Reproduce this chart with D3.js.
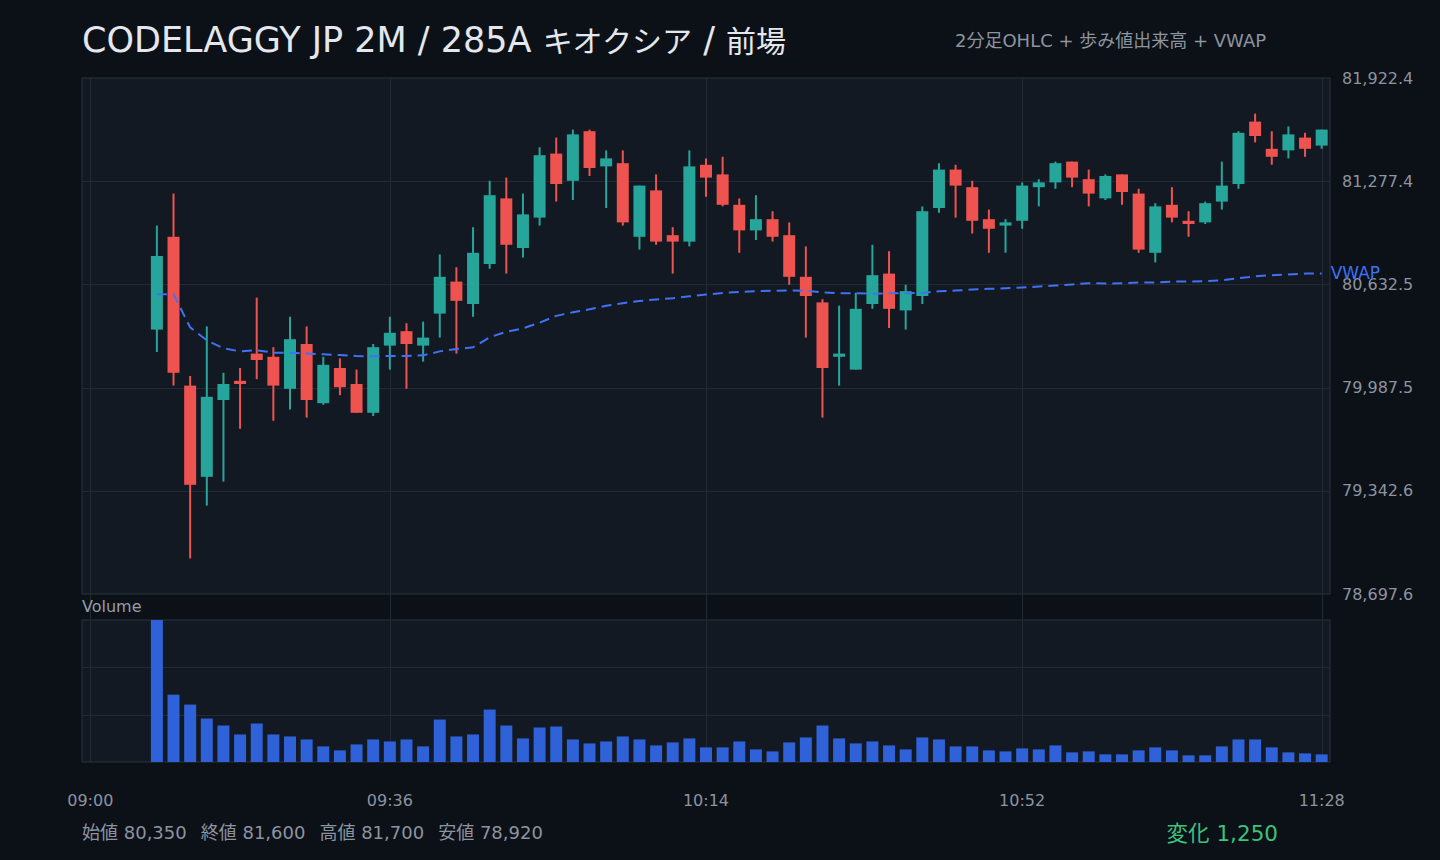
<!DOCTYPE html>
<html lang="ja">
<head>
<meta charset="utf-8">
<script src="https://cdn.jsdelivr.net/npm/d3@7"></script>
<style>
  html, body { margin: 0; padding: 0; background: #0c1017; }
  svg { display: block; font-family: "DejaVu Sans", "Noto Sans CJK JP", sans-serif; }
</style>
</head>
<body>
<svg id="chart" width="1440" height="860"></svg>
<script>
// 2-minute bars, 09:08 .. 11:28
const FIRST_BAR = '09:08';
const LAST_BAR = '11:28';
const SESSION = ['09:00', '11:28'];
const TICK_LABELS = ['09:00', '09:36', '10:14', '10:52', '11:28'];

const OPEN = [
  80350, 80930, 80000, 79430, 79910, 80030, 80200, 80180, 79980, 80260,
  79890, 80110, 80010, 79830, 80250, 80340, 80250, 80450, 80650, 80510,
  80760, 81170, 80860, 81050, 81450, 81280, 81590, 81370, 81390, 80930,
  81220, 80940, 80900, 81380, 81320, 81130, 80970, 81040, 80940, 80680,
  80520, 80180, 80100, 80510, 80700, 80470, 80560, 81110, 81350, 81240,
  81040, 81000, 81030, 81240, 81270, 81400, 81290, 81170, 81320, 81200,
  80830, 81130, 81030, 81020, 81150, 81260, 81650, 81480, 81470, 81550,
  81500
];
const HIGH = [
  81000, 81200, 80060, 80370, 80080, 80110, 80550, 80240, 80430, 80370,
  80180, 80170, 80100, 80260, 80430, 80390, 80400, 80820, 80740, 80990,
  81280, 81300, 81200, 81490, 81550, 81600, 81600, 81470, 81470, 81250,
  81320, 80990, 81470, 81420, 81430, 81170, 81190, 81090, 81020, 80870,
  80540, 80500, 80580, 80880, 80840, 80630, 81120, 81390, 81380, 81280,
  81100, 81040, 81270, 81290, 81400, 81400, 81350, 81320, 81320, 81230,
  81140, 81240, 81090, 81150, 81400, 81590, 81700, 81590, 81620, 81580,
  81600
];
const LOW = [
  80210, 80000, 78920, 79250, 79400, 79730, 80040, 79780, 79850, 79800,
  79880, 79940, 79830, 79810, 80100, 79980, 80150, 80300, 80200, 80430,
  80730, 80700, 80800, 81000, 81150, 81160, 81310, 81110, 81000, 80850,
  80880, 80700, 80870, 81180, 81120, 80830, 80910, 80900, 80630, 80300,
  79800, 80000, 80100, 80480, 80360, 80350, 80510, 81080, 81050, 80950,
  80830, 80830, 80980, 81120, 81230, 81240, 81120, 81160, 81130, 80830,
  80770, 81020, 80930, 81010, 81100, 81230, 81520, 81380, 81420, 81430,
  81480
];
const CLOSE = [
  80810, 80080, 79380, 79930, 80010, 80010, 80160, 80000, 80290, 79910,
  80130, 79990, 79830, 80240, 80330, 80260, 80300, 80680, 80530, 80830,
  81190, 80880, 81070, 81440, 81260, 81570, 81360, 81420, 81020, 81250,
  80900, 80900, 81370, 81300, 81130, 80970, 81040, 80930, 80680, 80560,
  80110, 80200, 80480, 80690, 80480, 80590, 81090, 81350, 81250, 81030,
  80980, 81020, 81250, 81270, 81390, 81300, 81200, 81310, 81210, 80850,
  81120, 81050, 81010, 81140, 81250, 81580, 81560, 81430, 81570, 81480,
  81600
];
// thousand shares
const VOLUME = [
  428, 203, 173, 131, 110, 83, 116, 83, 77, 68,
  47, 35, 53, 68, 62, 68, 47, 128, 77, 83,
  158, 110, 71, 104, 107, 68, 56, 62, 77, 68,
  50, 59, 71, 44, 44, 62, 38, 32, 59, 74,
  110, 71, 56, 62, 50, 38, 74, 68, 47, 47,
  35, 32, 41, 38, 50, 29, 32, 23, 23, 35,
  44, 35, 20, 20, 47, 68, 68, 44, 29, 26,
  23
];
const VWAP = [
  80571, 80571, 80364, 80283, 80233, 80214, 80221, 80206, 80206, 80200,
  80196, 80191, 80185, 80183, 80185, 80185, 80189, 80214, 80229, 80239,
  80302, 80336, 80358, 80393, 80436, 80458, 80477, 80499, 80515, 80529,
  80538, 80546, 80558, 80569, 80579, 80585, 80590, 80593, 80594, 80593,
  80583, 80577, 80577, 80574, 80577, 80577, 80579, 80590, 80594, 80600,
  80605, 80608, 80613, 80619, 80625, 80632, 80640, 80638, 80640, 80644,
  80644, 80650, 80650, 80652, 80658, 80671, 80683, 80690, 80694, 80700,
  80700
];

const SUMMARY_LABELS = ['始値', '終値', '高値', '安値'];
// title pieces: [text, is CJK]
const TITLE_PARTS = [
  ['CODELAGGY JP 2M / 285A ', false],
  ['キオクシア', true],
  [' / ', false],
  ['前場', true],
];

const COLORS = {
  up: '#26a69a',
  down: '#ef5350',
  volume: '#2f61d8',
  vwap: '#3f72f6',
  grid: '#232a34',
  border: '#2b323d',
  panel: '#121922',
  text: '#8c94a0',
  title: '#e4e8ee',
  change: '#3cc27a',
};

const svg = d3.select('#chart');
const plot = { left: 82, right: 1330, top: 78, bottom: 594 };
const volPane = { top: 620, bottom: 762 };

const parse = d3.timeParse('%H:%M');
const barTimes = d3.timeMinute.every(2).range(parse(FIRST_BAR), d3.timeMinute.offset(parse(LAST_BAR), 1));
const bars = barTimes.map((t, i) => ({
  t, o: OPEN[i], h: HIGH[i], l: LOW[i], c: CLOSE[i], v: VOLUME[i], vwap: VWAP[i],
}));

// Scales
const x = d3.scaleTime()
  .domain([d3.timeMinute.offset(parse(SESSION[0]), -1), d3.timeMinute.offset(parse(SESSION[1]), 1)])
  .range([plot.left, plot.right]);
const slotW = x(parse('09:02')) - x(parse('09:00'));
const candleW = slotW * 0.72;

const lo = d3.min(LOW), hi = d3.max(HIGH);
const pad = (hi - lo) * 0.08;
const y = d3.scaleLinear().domain([lo - pad, hi + pad]).range([plot.bottom, plot.top]);
const yTicks = d3.range(6).map(i => lo - pad + i * (hi - lo + 2 * pad) / 5);

const volMax = d3.max(VOLUME);
const yVol = d3.scaleLinear().domain([0, volMax]).range([volPane.bottom, volPane.top]);

// Panels
svg.append('rect').attr('width', 1440).attr('height', 860).attr('fill', '#0c1017');
svg.append('rect')
  .attr('x', plot.left).attr('y', plot.top)
  .attr('width', plot.right - plot.left).attr('height', plot.bottom - plot.top)
  .attr('fill', COLORS.panel).attr('stroke', COLORS.border);
svg.append('rect')
  .attr('x', plot.left).attr('y', volPane.top)
  .attr('width', plot.right - plot.left).attr('height', volPane.bottom - volPane.top)
  .attr('fill', COLORS.panel).attr('stroke', COLORS.border);

// Grid
const tickTimes = TICK_LABELS.map(parse);
svg.append('g').selectAll('line')
  .data(tickTimes)
  .join('line')
  .attr('x1', d => Math.round(x(d)) + 0.5).attr('x2', d => Math.round(x(d)) + 0.5)
  .attr('y1', plot.top).attr('y2', volPane.bottom)
  .attr('stroke', COLORS.grid);

svg.append('g').selectAll('line')
  .data(yTicks.slice(1, -1))
  .join('line')
  .attr('x1', plot.left).attr('x2', plot.right)
  .attr('y1', d => Math.round(y(d)) + 0.5).attr('y2', d => Math.round(y(d)) + 0.5)
  .attr('stroke', COLORS.grid);

svg.append('g').selectAll('line')
  .data([volMax / 3, volMax * 2 / 3])
  .join('line')
  .attr('x1', plot.left).attr('x2', plot.right)
  .attr('y1', d => Math.round(yVol(d)) + 0.5)
  .attr('y2', d => Math.round(yVol(d)) + 0.5)
  .attr('stroke', COLORS.grid);

// Price axis labels
svg.append('g').selectAll('text')
  .data(yTicks)
  .join('text')
  .attr('x', plot.right + 12)
  .attr('y', d => y(d))
  .attr('dy', '0.35em')
  .attr('fill', COLORS.text)
  .attr('font-size', '16px')
  .text(d => d3.format(',.1f')(d));

// Time axis labels
svg.append('g').selectAll('text')
  .data(tickTimes)
  .join('text')
  .attr('x', d => x(d))
  .attr('y', 800)
  .attr('dy', '0.35em')
  .attr('text-anchor', 'middle')
  .attr('fill', COLORS.text)
  .attr('font-size', '16px')
  .text((d, i) => TICK_LABELS[i]);

// Candles
const candle = svg.append('g').selectAll('g')
  .data(bars)
  .join('g')
  .attr('fill', d => d.c >= d.o ? COLORS.up : COLORS.down)
  .attr('stroke', d => d.c >= d.o ? COLORS.up : COLORS.down);

candle.append('line')
  .attr('x1', d => x(d.t)).attr('x2', d => x(d.t))
  .attr('y1', d => y(d.h)).attr('y2', d => y(d.l))
  .attr('stroke-width', 2);

candle.append('rect')
  .attr('x', d => x(d.t) - candleW / 2)
  .attr('width', candleW)
  .attr('y', d => y(Math.max(d.o, d.c)))
  .attr('height', d => Math.max(2, Math.abs(y(d.o) - y(d.c))))
  .attr('stroke', 'none');

// VWAP
const vwapLine = d3.line()
  .x(d => x(d.t))
  .y(d => y(d.vwap));

svg.append('path')
  .datum(bars)
  .attr('fill', 'none')
  .attr('stroke', COLORS.vwap)
  .attr('stroke-width', 2)
  .attr('stroke-dasharray', '10 6')
  .attr('d', vwapLine);

const lastBar = bars[bars.length - 1];
svg.append('text')
  .attr('x', x(lastBar.t) + 9)
  .attr('y', y(lastBar.vwap) - 1)
  .attr('dy', '0.35em')
  .attr('fill', COLORS.vwap)
  .attr('font-size', '17px')
  .text('VWAP');

// Volume
svg.append('text')
  .attr('x', plot.left)
  .attr('y', 606)
  .attr('dy', '0.35em')
  .attr('fill', '#959daa')
  .attr('font-size', '16px')
  .text('Volume');

svg.append('g').selectAll('rect')
  .data(bars)
  .join('rect')
  .attr('x', d => x(d.t) - candleW / 2)
  .attr('width', candleW)
  .attr('y', d => yVol(d.v))
  .attr('height', d => volPane.bottom - yVol(d.v))
  .attr('fill', COLORS.volume);

// Title
const title = svg.append('text')
  .attr('x', plot.left)
  .attr('y', 52)
  .attr('fill', COLORS.title)
  .style('white-space', 'pre');
title.selectAll('tspan')
  .data(TITLE_PARTS)
  .join('tspan')
  .attr('font-size', d => d[1] ? '30px' : '35px')
  .attr('font-family', d => d[1] ? '"Noto Sans CJK JP", sans-serif' : null)
  .text(d => d[0]);

svg.append('text')
  .attr('x', 955)
  .attr('y', 47)
  .attr('fill', COLORS.text)
  .attr('font-size', '18px')
  .text('2分足OHLC + 歩み値出来高 + VWAP');

// Summary footer
const fmt = d3.format(',');
const summaryValues = [OPEN[0], CLOSE[CLOSE.length - 1], hi, lo];
let fx = plot.left;
SUMMARY_LABELS.forEach((label, i) => {
  const t = svg.append('text')
    .attr('x', fx)
    .attr('y', 833)
    .attr('dy', '0.35em')
    .attr('fill', COLORS.text)
    .attr('font-size', '18px')
    .text(`${label} ${fmt(summaryValues[i])}`);
  fx += t.node().getComputedTextLength() + 14;
});

const change = CLOSE[CLOSE.length - 1] - OPEN[0];
svg.append('text')
  .attr('x', 1278)
  .attr('y', 833)
  .attr('dy', '0.35em')
  .attr('text-anchor', 'end')
  .attr('fill', COLORS.change)
  .attr('font-size', '21.5px')
  .text(`変化 ${fmt(change)}`);
</script>
</body>
</html>
